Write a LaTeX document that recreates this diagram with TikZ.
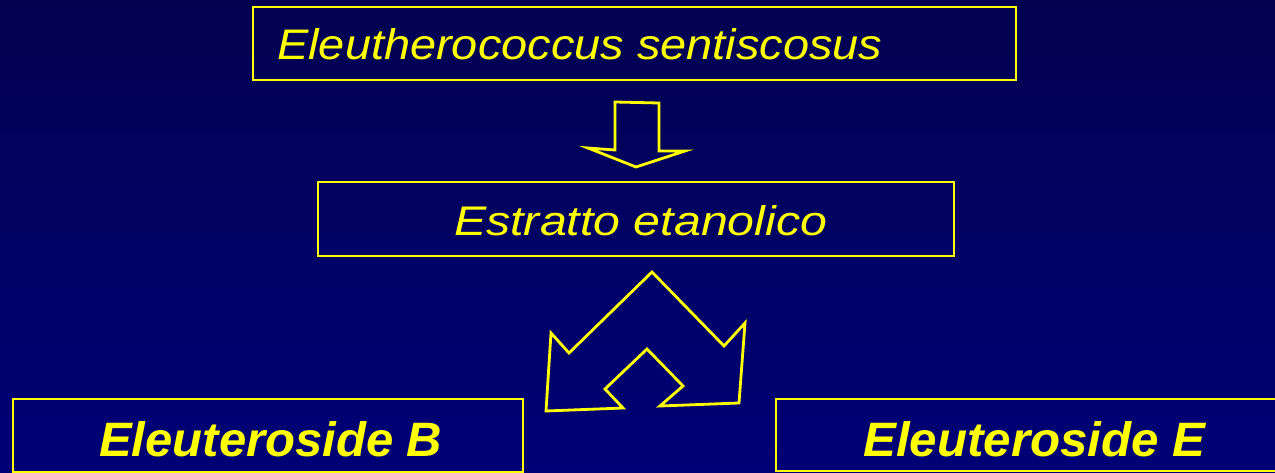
\documentclass[tikz,border=0pt]{standalone}
\usepackage{fontspec}
\setmainfont{Liberation Sans}
\usepackage{graphicx}
\definecolor{bgtop}{RGB}{3,1,80}
\definecolor{bgbot}{RGB}{0,0,118}
\definecolor{ylw}{RGB}{255,255,0}
\tikzset{
  box/.style={draw=ylw, line width=2.6pt, inner sep=0pt},
  arrowshape/.style={draw=ylw, line width=2.8pt, line join=miter},
  lbl/.style={text=ylw, inner sep=0pt, anchor=base west},
}
\begin{document}
\begin{tikzpicture}[x=1pt,y=-1pt]
\useasboundingbox (0,0) rectangle (1275,473);
\clip (0,0) rectangle (1275,473);
\shade[top color=bgtop, bottom color=bgbot] (0,0) rectangle (1275,473);
% boxes
\node[box, minimum width=763pt, minimum height=73pt] (src) at (634.5,43.5) {};
\node[box, minimum width=636pt, minimum height=74pt] (ext) at (636,219) {};
\node[box, minimum width=510pt, minimum height=73pt] (eb) at (268,435.5) {};
\node[box, minimum width=520pt, minimum height=72pt] (ee) at (1036,435) {};
% texts
\node[lbl] (srct) at (277,60) {\resizebox{605pt}{31pt}{\itshape Eleutherococcus sentiscosus}};
\node[lbl] (extt) at (454,236) {\resizebox{373pt}{30pt}{\itshape Estratto etanolico}};
\node[lbl] (ebt) at (99,456) {\resizebox{343pt}{35pt}{\bfseries\itshape Eleuteroside B}};
\node[lbl] (eet) at (863,456) {\resizebox{342pt}{35pt}{\bfseries\itshape Eleuteroside E}};
% down arrow
\draw[arrowshape] (615,102) -- (659,103) -- (659,151) -- (685,151) -- (636,167) -- (588,148) -- (615,150) -- cycle;
% double arrow
\draw[arrowshape] (652,272) -- (724,346) -- (745,323) -- (739,403) -- (660,406) -- (683,386)
  -- (647,349) -- (605,389) -- (623,408) -- (546,411) -- (551,333) -- (569,353) -- cycle;
\end{tikzpicture}
\end{document}
